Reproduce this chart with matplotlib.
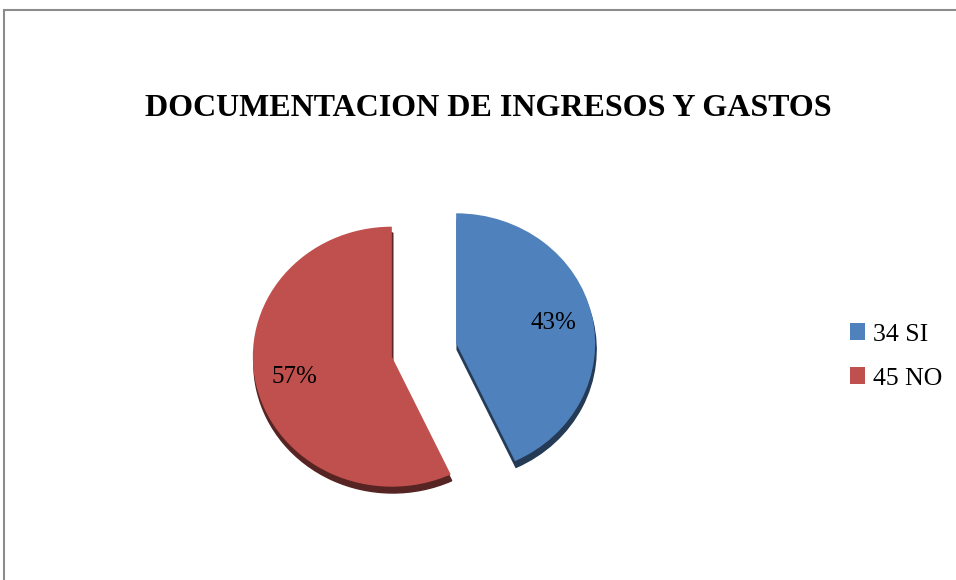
import matplotlib
matplotlib.use("Agg")
import matplotlib.pyplot as plt
from matplotlib.patches import Rectangle

# data
labels = ["34 SI", "45 NO"]
values = [34, 45]
colors = ["#4F81BD", "#C0504D"]
explode = [0.237, 0.237]
title = "DOCUMENTACION DE INGRESOS Y GASTOS"

plt.rcParams['font.family'] = ['Liberation Serif', 'DejaVu Serif']

fig = plt.figure(figsize=(9.56, 5.8), dpi=100)

# chart area border (open at the bottom, like the cropped original)
fig.patches.append(Rectangle((4 / 956, -0.05), 1.2, 1 - 10 / 580 + 0.05,
                             transform=fig.transFigure, fill=False,
                             edgecolor="#8c8c8c", linewidth=1.5))

# slightly flattened pie (tilted look of the original)
ax = fig.add_axes([215.5 / 956, 35 / 580, 417 / 956, 390 / 580])
wedges, texts, autotexts = ax.pie(values, colors=colors, explode=explode,
                                  startangle=90, counterclock=False,
                                  autopct='%1.0f%%', pctdistance=0.72,
                                  textprops={'fontsize': 18, 'color': 'black'},
                                  shadow={'ox': 0.005, 'oy': -0.035,
                                          'shade': 0.55, 'alpha': 1})
ax.set_xlim(-1.5, 1.5)
ax.set_ylim(-1.5, 1.5)
ax.set_aspect('auto')

fig.text(488 / 956, 1 - 108 / 580, title, ha='center', va='center',
         fontsize=23, fontweight='bold')

fig.legend(wedges, labels, loc='center left',
           bbox_to_anchor=(837 / 956, 1 - 356.5 / 580),
           frameon=False, fontsize=18.5, borderpad=0,
           handlelength=0.6, handleheight=0.6, handletextpad=0.3,
           labelspacing=0.85)

fig.savefig("out.png", dpi=100)
